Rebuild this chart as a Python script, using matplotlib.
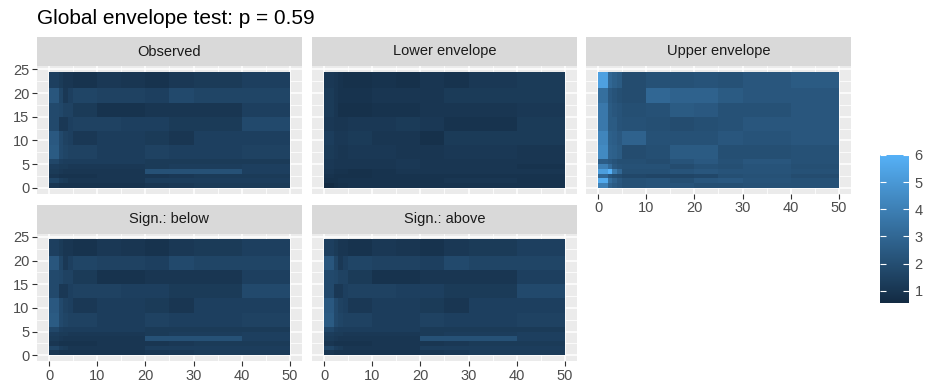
import numpy as np
import matplotlib.pyplot as plt
from matplotlib.colors import LinearSegmentedColormap

# cell edges of the 2d grid
x_edges = [0, 2, 3, 4, 5, 10, 15, 20, 25, 30, 40, 50]
y_edges = [0, 1, 2, 3, 4, 5, 6, 9, 12, 15, 18, 21, 24.5]

# values, rows listed from top (y=21..24.5) to bottom (y=0..1)
observed = [
    [1.4, 1.2, 1.0, 1.0, 0.9, 1.1, 1.0, 0.9, 1.1, 1.2, 1.4],
    [2.3, 1.6, 1.1, 1.4, 1.6, 1.5, 1.5, 1.4, 1.8, 1.6, 1.6],
    [1.8, 1.7, 1.5, 1.5, 1.2, 0.9, 0.9, 1.0, 1.0, 1.0, 1.4],
    [1.8, 1.1, 1.1, 1.4, 1.5, 1.5, 1.4, 1.4, 1.2, 1.2, 1.8],
    [2.4, 1.8, 1.5, 1.4, 1.1, 1.3, 1.3, 1.2, 1.0, 1.4, 1.4],
    [2.5, 1.8, 1.6, 1.5, 1.5, 1.3, 1.3, 1.5, 1.4, 1.4, 1.5],
    [1.7, 1.4, 1.3, 1.3, 1.3, 1.3, 1.3, 1.2, 1.2, 1.2, 1.2],
    [1.3, 1.2, 1.2, 1.1, 1.1, 1.1, 1.1, 1.2, 1.3, 1.3, 1.4],
    [1.2, 1.1, 1.0, 1.0, 1.0, 1.0, 1.0, 2.1, 2.1, 2.1, 1.4],
    [1.0, 0.9, 0.9, 0.9, 0.9, 1.0, 1.0, 1.0, 1.1, 1.2, 1.2],
    [1.6, 1.3, 1.2, 1.0, 1.0, 1.0, 1.0, 1.3, 1.3, 1.3, 1.3],
    [1.0, 0.9, 0.9, 0.9, 0.9, 0.9, 0.9, 1.0, 1.1, 1.2, 1.2],
]

lower = [
    [1.1, 1.0, 0.9, 0.8, 0.8, 0.9, 0.8, 1.0, 0.9, 1.1, 1.2],
    [1.2, 1.0, 0.9, 0.9, 0.9, 1.0, 1.0, 1.0, 1.2, 1.2, 1.2],
    [1.2, 1.0, 0.8, 0.8, 0.8, 0.9, 0.9, 1.0, 1.0, 1.0, 1.1],
    [1.1, 1.0, 1.0, 1.0, 1.1, 1.1, 1.2, 1.1, 0.9, 0.9, 1.2],
    [1.3, 1.1, 1.1, 1.1, 1.2, 1.0, 1.0, 0.8, 1.2, 1.2, 1.2],
    [1.2, 1.1, 1.0, 1.0, 1.1, 1.1, 1.0, 1.0, 1.1, 1.1, 1.0],
    [1.1, 1.0, 1.0, 1.0, 1.0, 1.0, 1.1, 1.0, 1.0, 1.0, 1.0],
    [1.1, 1.0, 1.0, 1.0, 1.0, 1.0, 1.1, 1.0, 1.0, 1.0, 0.9],
    [1.0, 0.9, 0.9, 0.9, 0.8, 0.9, 1.0, 1.0, 1.0, 1.0, 1.0],
    [0.9, 0.8, 0.8, 0.8, 0.8, 0.9, 0.9, 0.9, 0.9, 0.9, 0.9],
    [0.8, 0.8, 0.9, 0.9, 0.9, 0.9, 0.9, 0.9, 1.0, 1.0, 0.9],
    [0.55, 0.7, 0.8, 0.8, 0.9, 0.9, 0.9, 0.9, 0.9, 0.9, 0.9],
]

upper = [
    [5.3, 3.0, 2.7, 2.5, 1.9, 2.1, 2.1, 2.2, 2.1, 2.3, 2.5],
    [3.3, 2.4, 2.2, 2.0, 1.9, 3.0, 2.8, 2.8, 2.5, 2.3, 2.3],
    [3.7, 2.5, 2.3, 2.2, 2.0, 2.1, 2.5, 2.4, 2.1, 2.1, 2.3],
    [3.7, 2.5, 2.5, 2.2, 2.1, 2.0, 1.9, 2.0, 2.1, 2.3, 2.3],
    [4.2, 2.7, 2.6, 2.4, 2.8, 2.1, 2.1, 2.1, 2.3, 2.2, 2.3],
    [4.4, 2.8, 2.7, 2.5, 1.9, 2.0, 2.5, 2.5, 2.0, 2.0, 2.1],
    [2.6, 2.4, 2.2, 2.0, 2.0, 1.9, 2.2, 2.4, 2.1, 2.3, 2.1],
    [4.0, 3.2, 2.4, 2.2, 2.1, 2.1, 1.9, 2.1, 2.0, 2.2, 2.0],
    [5.2, 6.0, 3.8, 3.0, 2.0, 2.0, 2.2, 2.3, 2.2, 2.2, 2.1],
    [3.0, 2.3, 2.0, 1.9, 1.7, 1.6, 1.6, 1.7, 2.0, 2.1, 1.9],
    [5.7, 3.3, 2.8, 2.4, 2.1, 2.2, 2.0, 2.3, 2.4, 2.2, 2.1],
    [4.0, 2.8, 2.5, 2.3, 2.1, 2.2, 2.2, 2.0, 2.0, 2.1, 2.1],
]

# p = 0.59, nothing significant -> sign. panels show the observed values
panels = [
    ("Observed", observed),
    ("Lower envelope", lower),
    ("Upper envelope", upper),
    ("Sign.: below", observed),
    ("Sign.: above", observed),
]

cmap = LinearSegmentedColormap.from_list("gg", ["#132B43", "#56B1F7"])
vmin = min(np.min(d) for _, d in panels)
vmax = max(np.max(d) for _, d in panels)

W, H = 929, 387
fig = plt.figure(figsize=(W / 100, H / 100), dpi=100)
plt.rcParams['font.family'] = ['Liberation Sans', 'DejaVu Sans']

col_x = [(37, 302), (312, 577), (586, 851)]
row_y = [(66, 193.5), (233.5, 361)]
strip_h = 29

ry = y_edges[-1] - y_edges[0]
rx = x_edges[-1] - x_edges[0]

for i, (name, data) in enumerate(panels):
    r, c = divmod(i, 3)
    x0, x1 = col_x[c]
    y0, y1 = row_y[r]
    ax = fig.add_axes([x0 / W, 1 - y1 / H, (x1 - x0) / W, (y1 - y0) / H])
    ax.set_facecolor("#EBEBEB")
    ax.pcolormesh(x_edges, y_edges, np.flipud(np.array(data)), cmap=cmap,
                  vmin=vmin, vmax=vmax, zorder=2)
    ax.set_xlim(-0.05 * rx, x_edges[-1] + 0.05 * rx)
    ax.set_ylim(-0.05 * ry, y_edges[-1] + 0.05 * ry)
    ax.set_xticks([0, 10, 20, 30, 40, 50])
    ax.set_xticks([5, 15, 25, 35, 45], minor=True)
    ax.set_yticks([0, 5, 10, 15, 20, 25])
    ax.set_yticks([2.5, 7.5, 12.5, 17.5, 22.5], minor=True)
    ax.grid(True, which="major", color="white", linewidth=1.1, zorder=1)
    ax.grid(True, which="minor", color="white", linewidth=0.55, zorder=1)
    ax.set_axisbelow(True)
    for s in ax.spines.values():
        s.set_visible(False)
    ax.tick_params(which="major", length=3.5, width=0.8, color="#333333",
                   labelsize=10.5, labelcolor="#4D4D4D", pad=2)
    ax.tick_params(which="minor", length=0)
    if c != 0:
        ax.tick_params(axis="y", labelleft=False, length=0)
    if not (r == 1 or c == 2):
        ax.tick_params(axis="x", labelbottom=False, length=0)

    # facet strip
    sax = fig.add_axes([x0 / W, 1 - y0 / H, (x1 - x0) / W, strip_h / H])
    sax.set_facecolor("#D9D9D9")
    sax.set_xticks([])
    sax.set_yticks([])
    for s in sax.spines.values():
        s.set_visible(False)
    sax.text(0.5, 0.5, name, ha="center", va="center", fontsize=10.5,
             color="#1A1A1A", transform=sax.transAxes)

fig.text(37 / W, 1 - 18 / H, "Global envelope test: p = 0.59", fontsize=15,
         ha="left", va="center", color="black")

# colour bar
cax = fig.add_axes([880 / W, 1 - 303 / H, 29 / W, 148 / H])
grad = np.linspace(vmin, vmax, 256).reshape(-1, 1)
cax.imshow(grad, aspect="auto", cmap=cmap, origin="lower",
           extent=[0, 1, vmin, vmax], vmin=vmin, vmax=vmax)
cbar_ticks = [1, 2, 3, 4, 5, 6]
cax.set_xlim(0, 1)
cax.set_ylim(vmin, vmax)
cax.hlines(cbar_ticks, 0, 0.2, color="white", linewidth=0.8)
cax.hlines(cbar_ticks, 0.8, 1, color="white", linewidth=0.8)
cax.set_xticks([])
cax.yaxis.tick_right()
cax.set_yticks(cbar_ticks)
cax.tick_params(axis="y", length=0, labelsize=10.5, labelcolor="#4D4D4D", pad=4)
for s in cax.spines.values():
    s.set_visible(False)

fig.savefig("out.png", dpi=100)
